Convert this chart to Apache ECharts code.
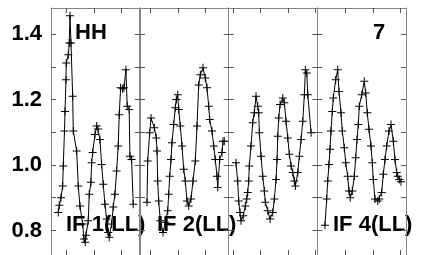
<!DOCTYPE html>
<html>
<head>
<meta charset="utf-8">
<script src="https://cdn.jsdelivr.net/npm/echarts@6/dist/echarts.min.js"></script>
<style>
  html, body { margin: 0; padding: 0; background: #fff; }
  #chart { width: 421px; height: 255px; }
</style>
</head>
<body>
<div id="chart"></div>
<script>
// panel names (text drawn inside each panel)
const panelLabels = ['IF 1(LL)', 'IF 2(LL)', '', 'IF 4(LL)'];

// y ticks / labels
const yTickValues = [0.8, 0.9, 1.0, 1.1, 1.2, 1.3, 1.4];
const yLabelValues = [0.8, 1.0, 1.2, 1.4];
const yMin = 0.725;
const yMax = 1.48;

// x range + tick positions of each panel (x in tick units)
const xRanges = [[-0.575, 2.678], [-0.392, 2.857], [-0.168, 3.077], [-1.04, 2.209]];
const xTickValues = [[0, 1, 2], [0, 1, 2], [0, 1, 2, 3], [0, 1, 2]];

// series values, [x, y]
const panel1 = [
  [-0.308, 0.855], [-0.271, 0.877], [-0.209, 0.90], [-0.147, 0.936], [-0.125, 0.997],
  [-0.081, 1.104], [-0.062, 1.164], [-0.026, 1.261], [-0.015, 1.312], [0.059, 1.337],
  [0.095, 1.373], [0.121, 1.456], [0.158, 1.373], [0.220, 1.21], [0.242, 1.104],
  [0.366, 1.043], [0.425, 0.936], [0.487, 0.875], [0.586, 0.82], [0.634, 0.774],
  [0.681, 0.764], [0.707, 0.785], [0.791, 0.83], [0.828, 0.911], [0.890, 0.947],
  [0.916, 1.007], [0.952, 1.038], [1.037, 1.093], [1.099, 1.119], [1.147, 1.11],
  [1.220, 1.078], [1.282, 1.002], [1.341, 0.941], [1.403, 0.88], [1.465, 0.835],
  [1.524, 0.794], [1.560, 0.779], [1.648, 0.82], [1.707, 0.872], [1.769, 0.911],
  [1.832, 0.982], [1.890, 1.058], [1.927, 1.154], [1.978, 1.236], [2.051, 1.233],
  [2.099, 1.236], [2.172, 1.291], [2.220, 1.18], [2.293, 1.17], [2.319, 1.027],
  [2.381, 1.017], [2.440, 0.88]
];
const panel2 = [
  [-0.136, 0.886], [-0.110, 1.012], [-0.037, 1.099], [0.011, 1.144], [0.132, 1.114],
  [0.205, 1.083], [0.231, 1.043], [0.256, 0.951], [0.293, 0.89], [0.352, 0.83],
  [0.451, 0.794], [0.535, 0.825], [0.623, 0.86], [0.659, 0.911], [0.696, 0.966],
  [0.744, 1.017], [0.780, 1.068], [0.842, 1.124], [0.901, 1.175], [0.938, 1.2],
  [0.989, 1.215], [1.026, 1.17], [1.084, 1.119], [1.147, 1.058], [1.209, 0.987],
  [1.267, 0.951], [1.330, 0.89], [1.392, 0.875], [1.476, 0.896], [1.549, 0.951],
  [1.634, 1.012], [1.696, 1.119], [1.758, 1.245], [1.817, 1.276], [1.916, 1.297],
  [2.000, 1.266], [2.062, 1.236], [2.125, 1.18], [2.161, 1.139], [2.245, 1.104],
  [2.308, 1.058], [2.366, 1.017], [2.429, 0.966], [2.454, 0.931], [2.527, 1.017],
  [2.612, 1.038], [2.648, 1.073], [2.696, 1.073]
];
const panel3 = [
  [0.099, 1.007], [0.161, 0.951], [0.198, 0.89], [0.245, 0.855], [0.282, 0.83],
  [0.366, 0.845], [0.440, 0.875], [0.491, 0.896], [0.527, 0.916], [0.564, 0.951],
  [0.586, 0.997], [0.648, 1.058], [0.711, 1.129], [0.769, 1.16], [0.832, 1.21],
  [0.894, 1.18], [0.930, 1.16], [0.952, 1.099], [1.015, 1.027], [1.077, 0.966],
  [1.136, 0.921], [1.172, 0.886], [1.260, 0.86], [1.344, 0.835], [1.443, 0.855],
  [1.502, 0.896], [1.564, 0.956], [1.601, 1.017], [1.626, 1.088], [1.663, 1.144],
  [1.711, 1.185], [1.810, 1.205], [1.868, 1.19], [1.930, 1.134], [1.993, 1.083],
  [2.051, 1.033], [2.114, 0.997], [2.176, 0.977], [2.234, 0.951], [2.271, 0.936],
  [2.359, 0.977], [2.418, 1.027], [2.480, 1.078], [2.542, 1.134], [2.601, 1.215],
  [2.637, 1.291], [2.689, 1.281], [2.725, 1.215], [2.846, 1.099]
];
const panel4 = [
  [-0.758, 0.816], [-0.696, 0.896], [-0.659, 0.951], [-0.612, 1.002], [-0.575, 1.048],
  [-0.538, 1.104], [-0.491, 1.164], [-0.454, 1.205], [-0.366, 1.261], [-0.293, 1.291],
  [-0.245, 1.225], [-0.172, 1.16], [-0.125, 1.104], [-0.051, 1.053], [0.000, 1.007],
  [0.073, 0.966], [0.121, 0.921], [0.168, 0.9], [0.242, 0.921], [0.315, 0.966],
  [0.366, 1.022], [0.414, 1.078], [0.462, 1.124], [0.498, 1.18], [0.586, 1.215],
  [0.681, 1.256], [0.733, 1.22], [0.791, 1.16], [0.853, 1.109], [0.927, 1.058],
  [0.974, 1.007], [1.011, 0.956], [1.073, 0.896], [1.172, 0.89], [1.231, 0.896],
  [1.319, 0.916], [1.377, 0.972], [1.440, 1.017], [1.502, 1.058], [1.586, 1.104],
  [1.659, 1.124], [1.744, 1.073], [1.806, 1.017], [1.868, 0.977], [1.905, 0.966],
  [1.963, 0.956], [2.026, 0.949]
];
const panels = [panel1, panel2, panel3, panel4];

const chart = echarts.init(document.getElementById('chart'), null, { renderer: 'canvas' });

const FONT = '"Liberation Sans", Arial, sans-serif';
const AXIS_COLOR = '#858585';
const TICK_COLOR = '#555';
const PLUS = 'path://M3.5,0 h1 v3.5 h3.5 v1 h-3.5 v3.5 h-1 v-3.5 h-3.5 v-1 h3.5 z';

const panelLefts = [51, 140, 228.7, 317.3];
const panelWidth = 88.7;

const grid = [], xAxis = [], yAxis = [], series = [];

panelLefts.forEach((left, i) => {
  grid.push({ left: left, top: 8, width: panelWidth, height: 248 });

  // bottom + top x axes, ticks inward, no labels
  ['bottom', 'top'].forEach(pos => {
    xAxis.push({
      type: 'value',
      gridIndex: i,
      position: pos,
      min: xRanges[i][0],
      max: xRanges[i][1],
      axisLine: { show: true, onZero: false, lineStyle: { color: AXIS_COLOR, width: 1 } },
      axisTick: { show: true, inside: true, length: 5, customValues: xTickValues[i], lineStyle: { color: TICK_COLOR } },
      axisLabel: { show: false },
      splitLine: { show: false }
    });
  });

  // left + right y axes (onZero off so they sit on the panel edges)
  ['left', 'right'].forEach(pos => {
    yAxis.push({
      type: 'value',
      gridIndex: i,
      position: pos,
      min: yMin,
      max: yMax,
      axisLine: { show: true, onZero: false, lineStyle: { color: AXIS_COLOR, width: 1 } },
      axisTick: { show: true, inside: true, length: 5, customValues: yTickValues, lineStyle: { color: TICK_COLOR } },
      axisLabel: {
        show: i === 0 && pos === 'left',
        customValues: yLabelValues,
        formatter: v => v.toFixed(1),
        margin: 9,
        color: '#000',
        fontSize: 22,
        fontWeight: 'bold',
        fontFamily: FONT
      },
      splitLine: { show: false }
    });
  });

  series.push({
    type: 'line',
    xAxisIndex: i * 2,
    yAxisIndex: i * 2,
    data: panels[i],
    symbol: PLUS,
    symbolSize: 8,
    showAllSymbol: true,
    itemStyle: { color: '#000' },
    lineStyle: { color: '#000', width: 1 },
    animation: false
  });
});

// text drawn inside the panels
const textStyle = (t, x, y) => ({
  type: 'text',
  left: x,
  top: y,
  style: { text: t, fill: '#000', font: 'bold 22px ' + FONT }
});

const graphic = [
  textStyle('HH', 75, 22),
  textStyle('7', 373, 22),
  textStyle(panelLabels[0], 66, 214),
  textStyle(panelLabels[1], 157, 214),
  textStyle(panelLabels[3], 333, 214)
];

chart.setOption({
  animation: false,
  grid: grid,
  xAxis: xAxis,
  yAxis: yAxis,
  series: series,
  graphic: graphic
});
</script>
</body>
</html>
